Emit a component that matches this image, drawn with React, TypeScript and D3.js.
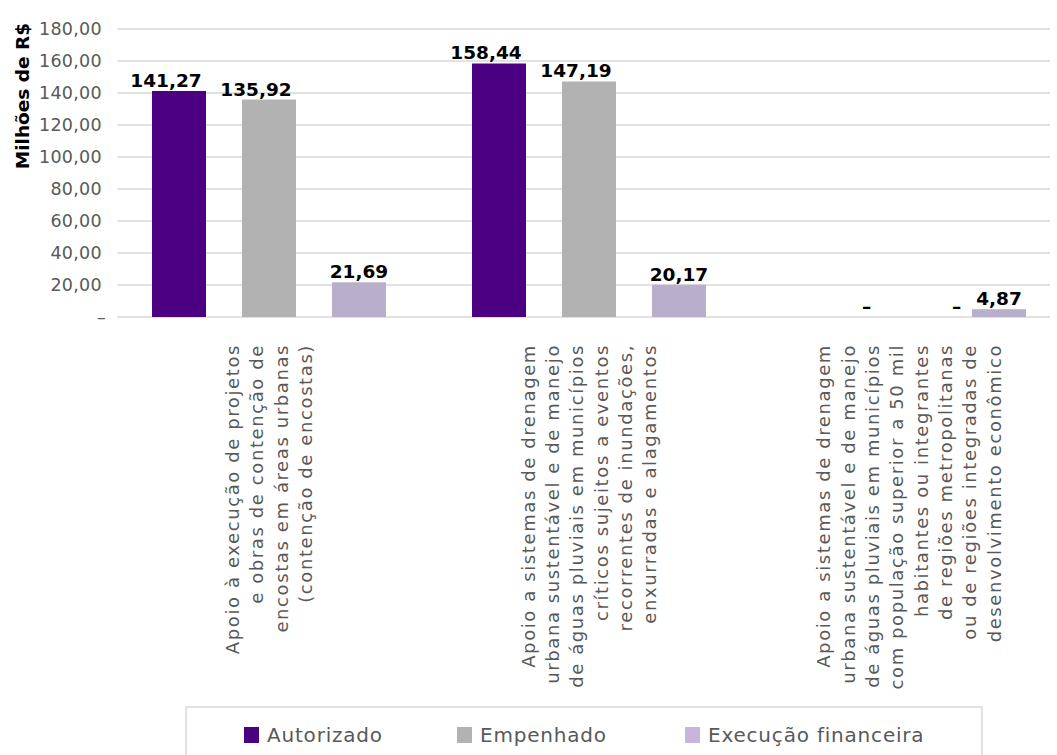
import React from "react";
import * as d3 from "d3";

const categories = ["cat1", "cat2", "cat3"];
const categoryLines: string[][] = [
  [
    "Apoio à execução de projetos",
    "e obras de contenção de",
    "encostas em áreas urbanas",
    "(contenção de encostas)",
  ],
  [
    "Apoio a sistemas de drenagem",
    "urbana sustentável e de manejo",
    "de águas pluviais em municípios",
    "críticos sujeitos a eventos",
    "recorrentes de inundações,",
    "enxurradas e alagamentos",
  ],
  [
    "Apoio a sistemas de drenagem",
    "urbana sustentável e de manejo",
    "de águas pluviais em municípios",
    "com população superior a 50 mil",
    "habitantes ou integrantes",
    "de regiões metropolitanas",
    "ou de regiões integradas de",
    "desenvolvimento econômico",
  ],
];
const seriesNames = ["Autorizado", "Empenhado", "Execução financeira"];
const autorizado = [141.27, 158.44, 0];
const empenhado = [135.92, 147.19, 0];
const execucao = [21.69, 20.17, 4.87];
const seriesValues = [autorizado, empenhado, execucao];
const seriesColors = ["#4B0082", "#B2B2B2", "#B9AFCB"];
const legendColors = ["#4B0082", "#B2B2B2", "#C6B6DA"];
const yTicks = [0, 20, 40, 60, 80, 100, 120, 140, 160, 180];
const yTitle = "Milhões de R$";

const fmt = (v: number) => (v === 0 ? "–" : v.toFixed(2).replace(".", ","));

const LABEL_FONT = "'DejaVu Sans', sans-serif";

export default function App() {
  const W = 1057;
  const H = 755;
  const groupStart = 109;
  const groupWidth = 320;
  const y = d3.scaleLinear().domain([0, 180]).range([317, 29]);
  const x0 = d3
    .scaleBand<string>()
    .domain(categories)
    .range([groupStart, groupStart + groupWidth * categories.length])
    .paddingInner(0)
    .paddingOuter(0);
  const x1 = d3
    .scaleBand<string>()
    .domain(seriesNames)
    .range([0, x0.bandwidth()])
    .paddingInner(0.4)
    .paddingOuter(0.478);
  const gridX1 = 117;
  const gridX2 = 1050;
  const lineStep = 24.3;
  const legendX = [244, 457, 685];

  return (
    <svg width={W} height={H} style={{ display: "block", position: "absolute", left: 0, top: 0 }}>
      <rect width={W} height={H} fill="#ffffff" />
      {/* gridlines */}
      {yTicks.map((t) => (
        <line
          key={"g" + t}
          x1={gridX1}
          x2={gridX2}
          y1={y(t)}
          y2={y(t)}
          stroke="#D9D9D9"
          strokeWidth={1.5}
        />
      ))}
      {/* y tick labels */}
      {yTicks.map((t) => (
        <text
          key={"t" + t}
          x={t === 0 ? 106 : 102}
          y={y(t)}
          dy="0.36em"
          textAnchor="end"
          fontFamily={LABEL_FONT}
          fontSize={17.5}
          letterSpacing={0.3}
          fill="#595959"
        >
          {t === 0 ? "–" : t.toFixed(2).replace(".", ",")}
        </text>
      ))}
      {/* y title */}
      <text
        transform={`translate(22, 96) rotate(-90)`}
        textAnchor="middle"
        dy="0.36em"
        fontFamily={LABEL_FONT}
        fontWeight="bold"
        fontSize={18.5}
        fill="#000"
      >
        {yTitle}
      </text>
      {/* bars */}
      {categories.map((c, ci) => (
        <g key={c} transform={`translate(${x0(c)},0)`}>
          {seriesNames.map((s, si) => {
            const v = seriesValues[si][ci];
            const bx = x1(s)!;
            const bw = x1.bandwidth();
            return (
              <g key={s}>
                {v > 0 && (
                  <rect x={bx} y={y(v)} width={bw} height={y(0) - y(v)} fill={seriesColors[si]} />
                )}
                <text
                  x={bx + bw / 2 + (v === 0 ? bw * 0.88 : v >= 100 ? -13 : 0)}
                  y={y(v) - 4}
                  textAnchor="middle"
                  fontFamily={LABEL_FONT}
                  fontWeight="bold"
                  fontSize={18.5}
                  fill="#000"
                >
                  {fmt(v)}
                </text>
              </g>
            );
          })}
        </g>
      ))}
      {/* category labels */}
      {categories.map((c, ci) => {
        const lines = categoryLines[ci];
        const cx = x0(c)! + x0.bandwidth() / 2;
        return (
          <g key={"l" + c}>
            {lines.map((ln, li) => (
              <text
                key={li}
                transform={`translate(${cx + (li - (lines.length - 1) / 2) * lineStep}, 344) rotate(-90)`}
                textAnchor="end"
                dy="0.36em"
                fontFamily={LABEL_FONT}
                fontSize={18}
                letterSpacing={1.6}
                fill="#595959"
              >
                {ln}
              </text>
            ))}
          </g>
        );
      })}
      {/* legend */}
      <rect x={186} y={707} width={796} height={70} fill="none" stroke="#D9D9D9" strokeWidth={1.5} />
      {seriesNames.map((s, si) => (
        <g key={"lg" + s} transform={`translate(${legendX[si]}, 735)`}>
          <rect x={0} y={-8} width={15} height={16} fill={legendColors[si]} />
          <text
            x={23}
            y={0}
            dy="0.36em"
            fontFamily={LABEL_FONT}
            fontSize={20}
            letterSpacing={0.8}
            fill="#595959"
          >
            {s}
          </text>
        </g>
      ))}
    </svg>
  );
}
